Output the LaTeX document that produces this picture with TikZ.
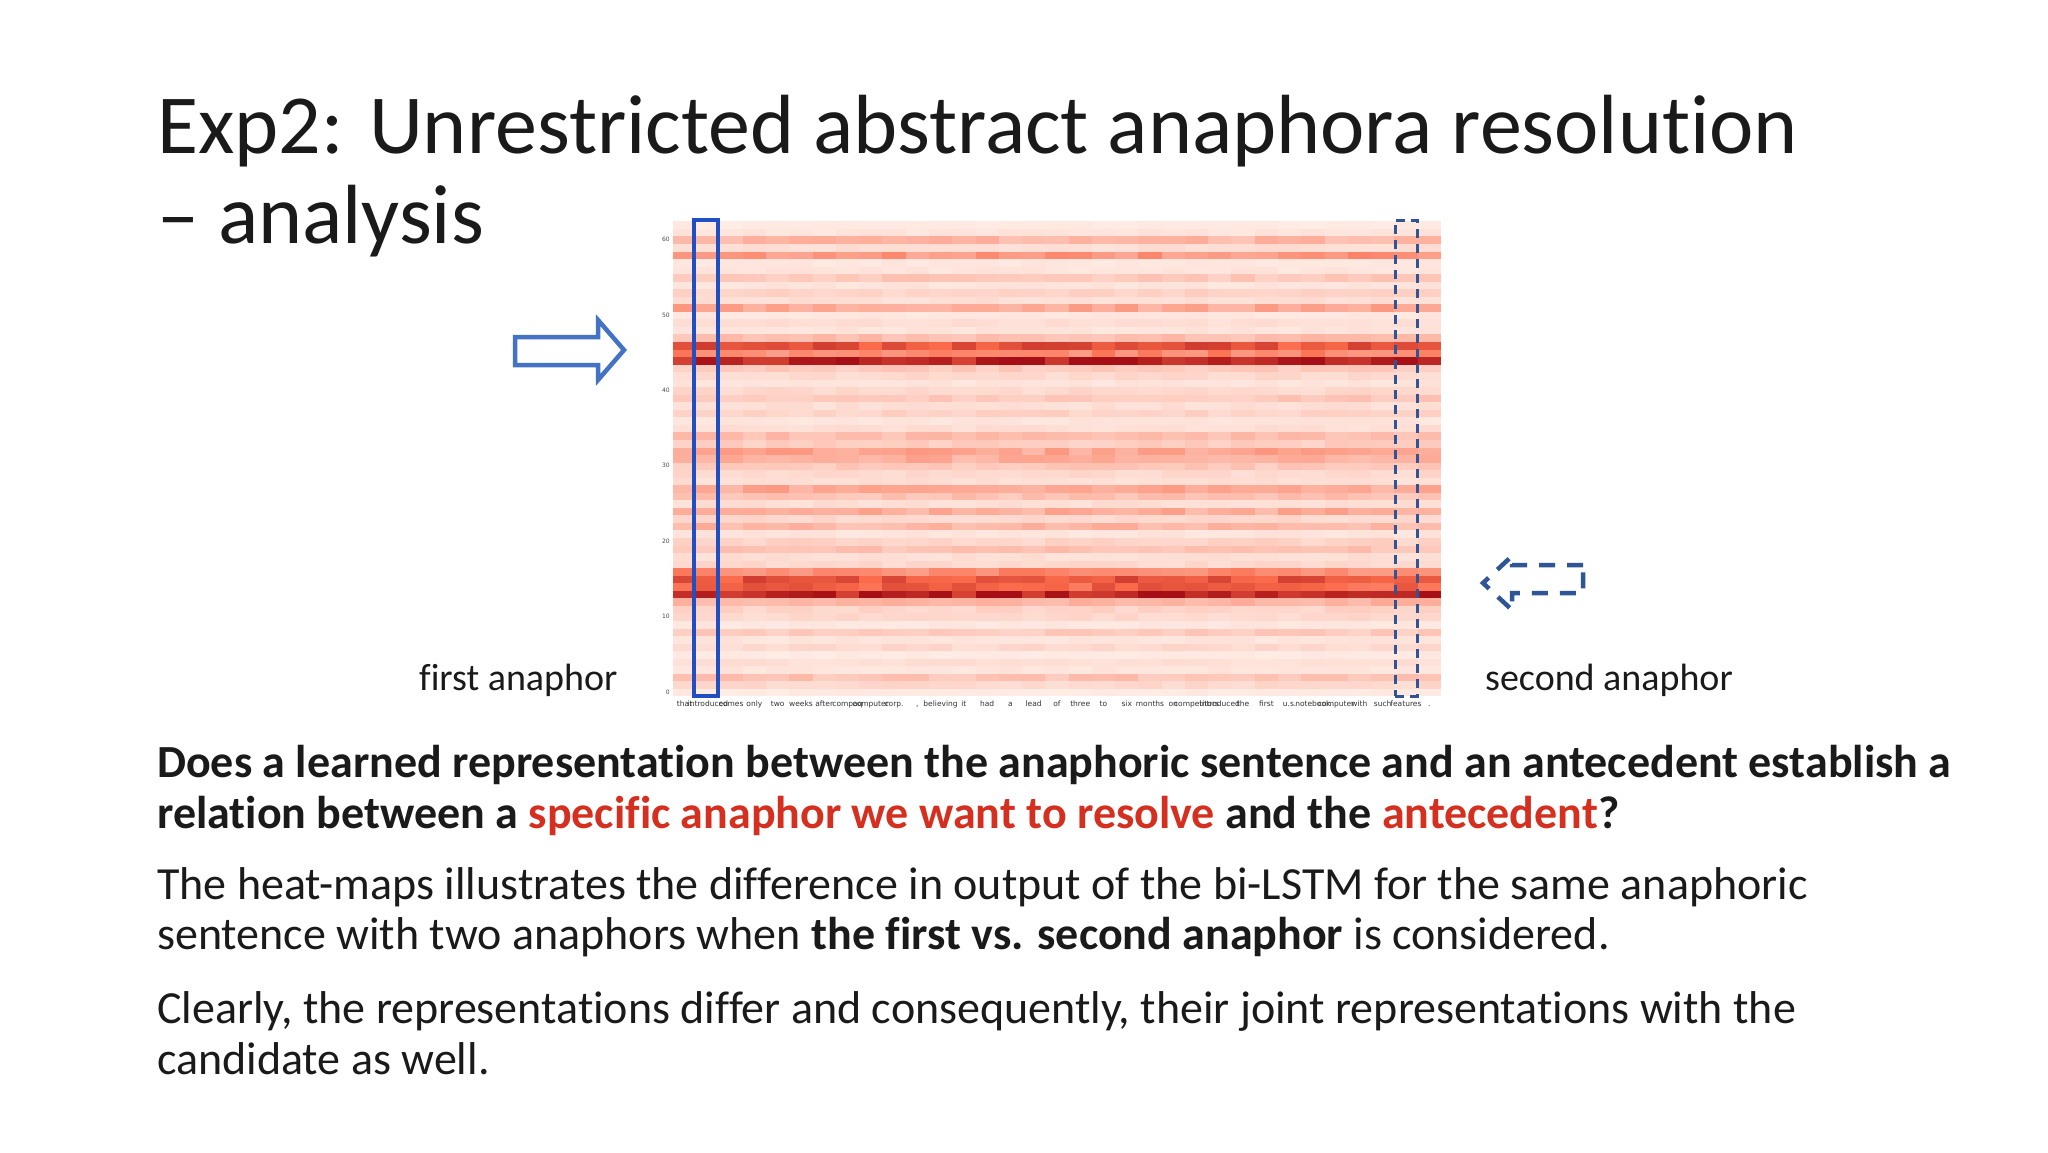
\documentclass[tikz,border=0pt]{standalone}
\usepackage{fontspec}
\setmainfont{Carlito}[Ligatures=NoCommon]
\newfontfamily\dejafont{DejaVu Sans}
\definecolor{rlo}{HTML}{FFF5F0}
\definecolor{rmid}{HTML}{FB6A4A}
\definecolor{rhi}{HTML}{A50F15}
\definecolor{hred}{HTML}{D5301F}
\definecolor{txt}{HTML}{1A1A1A}
\definecolor{ablue}{HTML}{4472C4}
\definecolor{dblue}{HTML}{2F5597}
\definecolor{bblue}{HTML}{1F4FC0}
\tikzset{
  line/.style={anchor=base west,inner sep=0pt,text=txt},
  tick/.style={anchor=east,inner sep=0pt,font=\dejafont\fontsize{6}{6}\selectfont,text=black!70},
  tok/.style={anchor=base,inner sep=0pt,font=\dejafont\fontsize{7.5}{8}\selectfont,text=black!80},
}
\begin{document}
\begin{tikzpicture}[x=1pt,y=-1pt]
\useasboundingbox[fill=white] (0,0) rectangle (2048,1152);
\pgfmathsetseed{7}
% heatmap
\foreach \r/\v in {0/0.04,1/0.10,2/0.18,3/0.06,4/0.08,5/0.04,6/0.10,7/0.06,8/0.15,9/0.05,10/0.10,11/0.12,12/0.25,13/0.88,14/0.55,15/0.62,16/0.40,17/0.10,18/0.08,19/0.18,20/0.12,21/0.06,22/0.22,23/0.10,24/0.26,25/0.08,26/0.18,27/0.28,28/0.08,29/0.10,30/0.16,31/0.25,32/0.28,33/0.14,34/0.20,35/0.08,36/0.06,37/0.12,38/0.08,39/0.16,40/0.10,41/0.06,42/0.10,43/0.15,44/0.92,45/0.38,46/0.62,47/0.20,48/0.06,49/0.08,50/0.05,51/0.28,52/0.08,53/0.12,54/0.06,55/0.16,56/0.06,57/0.05,58/0.34,59/0.08,60/0.22,61/0.06,62/0.04}{
  \foreach \c in {0,...,32}{
    \pgfmathsetmacro\w{max(0,min(1,\v*(0.78+0.44*rnd)))}
    \pgfmathsetmacro\xa{673+\c*23.27}
    \pgfmathsetmacro\ya{696-(\r+1)*7.54}
    \ifdim\w pt<0.5pt
      \pgfmathsetmacro\pp{100*(1-2*\w)}
      \fill[rlo!\pp!rmid] (\xa,\ya) rectangle ++(23.6,7.9);
    \else
      \pgfmathsetmacro\pp{100*(2-2*\w)}
      \fill[rmid!\pp!rhi] (\xa,\ya) rectangle ++(23.6,7.9);
    \fi
  }
}
\foreach \t in {0,10,20,30,40,50,60}{
  \node[tick] (t\t) at (670,{692-\t*7.54}) {\t};
}
\foreach \w [count=\i from 0] in {that,introduced,comes,only,two,weeks,after,compaq,computer,corp.,{,},believing,it,had,a,lead,of,three,to,six,months,on,competitors,introduced,the,first,u.s.,notebook,computer,with,such,features,.}{
  \node[tok] (w\i) at ({684.6+\i*23.27},706) {\w};
}
% boxes
\node[draw=bblue,line width=3.5pt,minimum width=24pt,minimum height=476pt,inner sep=0pt] (b1) at (706,458) {};
\node[draw=dblue,line width=3pt,dash pattern=on 9pt off 6pt,minimum width=22pt,minimum height=476pt,inner sep=0pt] (b2) at (1406,458) {};
% arrows
\draw[ablue,line width=4.5pt,line join=miter] (515,337) -- (598,337) -- (598,320) -- (624,350) -- (598,380) -- (598,365) -- (515,365) -- cycle;
\draw[dblue,line width=4.5pt,dash pattern=on 16pt off 12pt] (1583,565) -- (1512,565) -- (1512,556) -- (1483,583) -- (1512,610) -- (1512,593) -- (1583,593) -- cycle;
% labels
\node[line,font=\fontsize{38}{38}\selectfont] (fa) at (419,690) {first anaphor};
\node[line,font=\fontsize{38}{38}\selectfont] (sa) at (1485,690) {second anaphor};
% title
\node[line,font=\fontsize{84}{84}\selectfont] (ti1) at (157,153) {Exp2: Unrestricted abstract anaphora resolution};
\node[line,font=\fontsize{84}{84}\selectfont] (ti2) at (157,243) {– analysis};
% body
\node[line,font=\fontsize{46}{46}\selectfont\bfseries] (q1) at (157,777) {Does a learned representation between the anaphoric sentence and an antecedent establish a};
\node[line,font=\fontsize{46}{46}\selectfont\bfseries] (q2) at (157,828) {relation between a \textcolor{hred}{specific anaphor we want to resolve} and the \textcolor{hred}{antecedent}?};
\node[line,font=\fontsize{46}{46}\selectfont] (p1) at (157,899) {The heat-maps illustrates the difference in output of the bi-LSTM for the same anaphoric};
\node[line,font=\fontsize{46}{46}\selectfont] (p2) at (157,949) {sentence with two anaphors when \textbf{the first vs. second anaphor} is considered.};
\node[line,font=\fontsize{46}{46}\selectfont] (p3) at (157,1023) {Clearly, the representations differ and consequently, their joint representations with the};
\node[line,font=\fontsize{46}{46}\selectfont] (p4) at (157,1074) {candidate as well.};
\end{tikzpicture}
\end{document}
